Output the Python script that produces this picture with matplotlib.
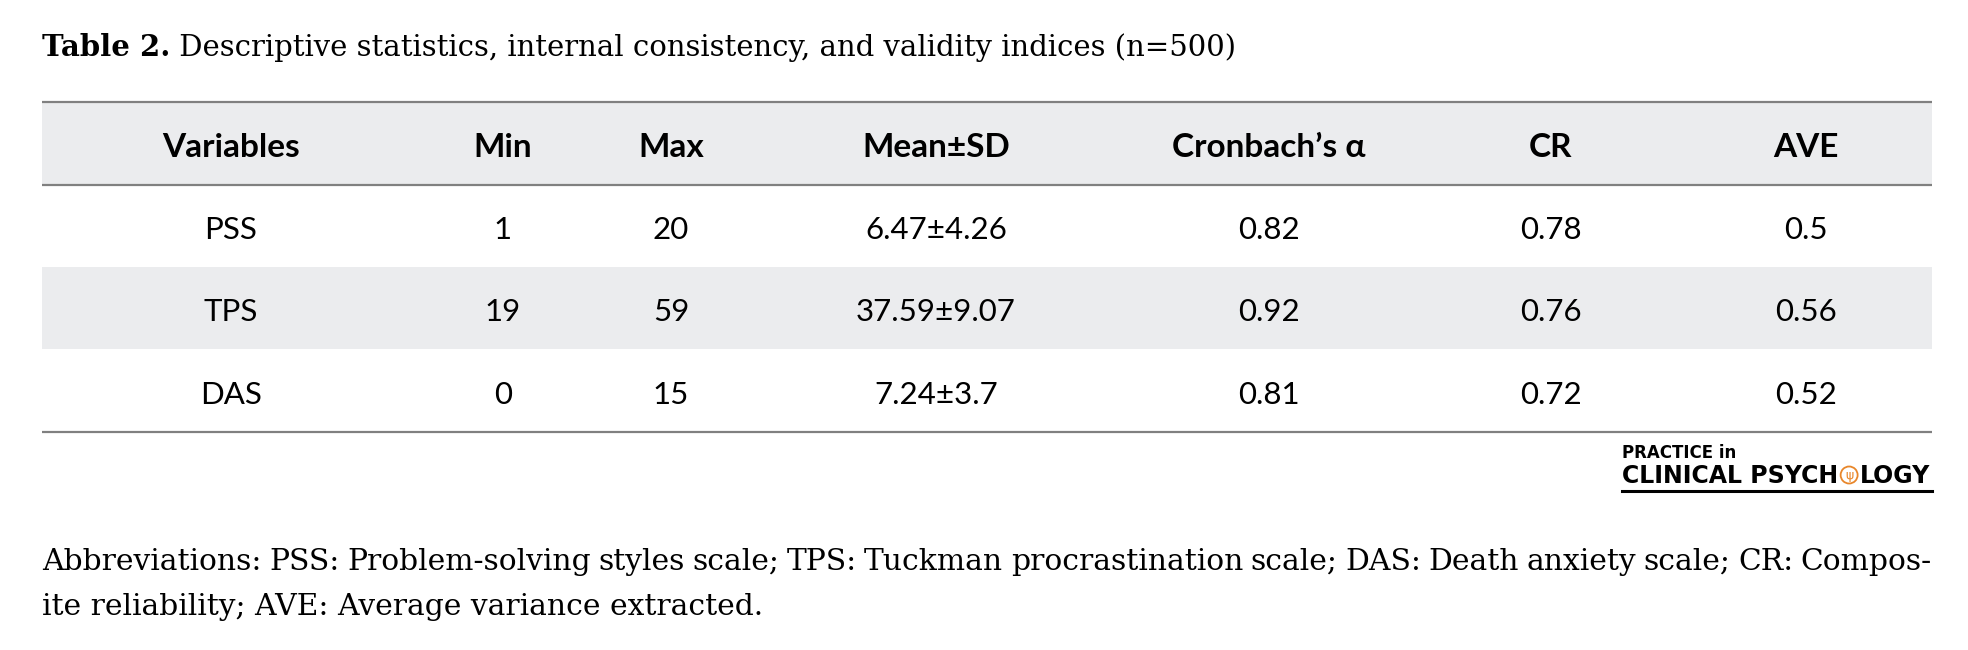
import matplotlib
matplotlib.use("Agg")
import matplotlib.pyplot as plt
from matplotlib.patches import Rectangle, Circle

# ── Table content ─────────────────────────────────────────────────────────────
TITLE_BOLD = "Table 2."
TITLE_REST = " Descriptive statistics, internal consistency, and validity indices (n=500)"

columns   = ["Variables", "Min", "Max", "Mean±SD", "Cronbach’s α", "CR", "AVE"]
variables = ["PSS", "TPS", "DAS"]
mins      = [1, 19, 0]
maxs      = [20, 59, 15]
mean_sd   = ["6.47±4.26", "37.59±9.07", "7.24±3.7"]
alphas    = [0.82, 0.92, 0.81]
cr        = [0.78, 0.76, 0.72]
ave       = [0.5, 0.56, 0.52]

FOOTNOTE = [
    "Abbreviations: PSS: Problem-solving styles scale; TPS: Tuckman procrastination "
    "scale; DAS: Death anxiety scale; CR: Compos-",
    "ite reliability; AVE: Average variance extracted.",
]

# ── Layout (pixels) ───────────────────────────────────────────────────────────
W, H = 1968, 650
LEFT, RIGHT = 42, 1932
COL_X = [231, 503, 671, 936, 1269, 1551, 1806]
RULE_Y = [102, 185, 432]
ROW_EDGES = [185, 267, 349, 432]
SHADE = "#EBECEE"
RULE = "#808080"
SERIF = "DejaVu Serif"
SANS = "Lato"
TITLE_W = 1194      # width of the title line in the reference
NOTE2_W = 718       # width of the second footnote line

fig = plt.figure(figsize=(W / 100, H / 100), dpi=100)
ax = fig.add_axes([0, 0, 1, 1])
ax.set_xlim(0, W)
ax.set_ylim(H, 0)
ax.axis("off")
renderer = fig.canvas.get_renderer()


def width_of(t):
    return t.get_window_extent(renderer).width


# title, sized to the reference width
tb = ax.text(LEFT, 56, TITLE_BOLD, fontsize=20, family=SERIF, weight="bold", va="baseline")
tr = ax.text(LEFT, 56, TITLE_REST, fontsize=20, family=SERIF, va="baseline")
fs = 20 * TITLE_W / (width_of(tb) + width_of(tr))
tb.set_fontsize(fs)
tr.set_fontsize(fs)
tr.set_x(LEFT + width_of(tb))

# shaded header and TPS row
ax.add_patch(Rectangle((LEFT, RULE_Y[0]), RIGHT - LEFT, RULE_Y[1] - RULE_Y[0], color=SHADE, lw=0))
ax.add_patch(Rectangle((LEFT, ROW_EDGES[1]), RIGHT - LEFT, ROW_EDGES[2] - ROW_EDGES[1], color=SHADE, lw=0))
for y in RULE_Y:
    ax.plot([LEFT, RIGHT], [y, y], color=RULE, lw=1.6, solid_capstyle="butt")

# header
for x, name in zip(COL_X, columns):
    ax.text(x, (RULE_Y[0] + RULE_Y[1]) / 2 + 4, name, fontsize=24, family=SANS, weight="bold",
            ha="center", va="center")

# body
rows = list(zip(variables, mins, maxs, mean_sd, alphas, cr, ave))
for i, row in enumerate(rows):
    yc = (ROW_EDGES[i] + ROW_EDGES[i + 1]) / 2 + 4
    for x, val in zip(COL_X, row):
        ax.text(x, yc, str(val), fontsize=22.5, family=SANS, ha="center", va="center")

# journal logo
lx = 1622
ax.text(lx, 458, "PRACTICE in", fontsize=12, family="DejaVu Sans", weight="bold", va="baseline")
t1 = ax.text(lx, 483, "CLINICAL PSYCH", fontsize=17, family="DejaVu Sans", weight="bold", va="baseline")
ox = lx + width_of(t1) + 11
ax.add_patch(Circle((ox, 475), 8.5, fill=False, ec="#E8862A", lw=1.3))
ax.text(ox, 475, "ψ", fontsize=9, color="#E8862A", ha="center", va="center", family="DejaVu Sans")
ax.text(ox + 11, 483, "LOGY", fontsize=17, family="DejaVu Sans", weight="bold", va="baseline")
ax.plot([lx, RIGHT], [491, 491], color="black", lw=2.2)

# footnote: size from second line, first line justified
n2 = ax.text(LEFT, 615, FOOTNOTE[1], fontsize=20, family=SERIF, va="baseline")
nfs = 20 * NOTE2_W / width_of(n2)
n2.set_fontsize(nfs)
words = FOOTNOTE[0].split(" ")
texts = [ax.text(0, 570, w, fontsize=nfs, family=SERIF, va="baseline") for w in words]
widths = [width_of(tx) for tx in texts]
gap = (RIGHT - LEFT - sum(widths)) / (len(words) - 1)
x = LEFT
for tx, w in zip(texts, widths):
    tx.set_x(x)
    x += w + gap

fig.savefig("out.png", dpi=100)
